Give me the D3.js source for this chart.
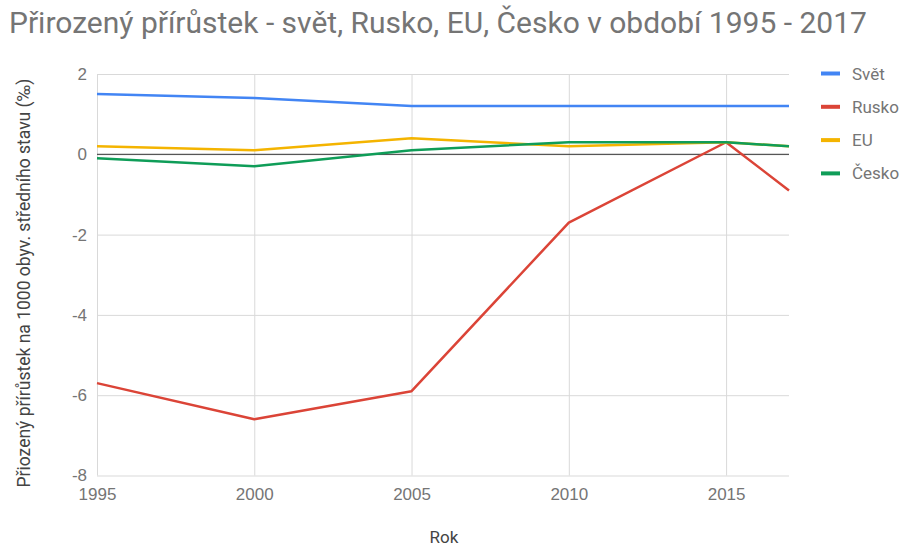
<!DOCTYPE html>
<html>
<head>
<meta charset="utf-8">
<script src="https://cdnjs.cloudflare.com/ajax/libs/d3/7.8.5/d3.min.js"></script>
<style>
  body { margin: 0; background: #fff; }
  svg { font-family: Roboto, "Noto Sans", sans-serif; display: block; }
</style>
</head>
<body>
<svg id="chart"></svg>
<script>
var years = [1995, 2000, 2005, 2010, 2015, 2017]
var svet = [1.5, 1.4, 1.2, 1.2, 1.2, 1.2]
var rusko = [-5.7, -6.6, -5.9, -1.7, 0.3, -0.9]
var eu = [0.2, 0.1, 0.4, 0.2, 0.3, 0.2]
var cesko = [-0.1, -0.3, 0.1, 0.3, 0.3, 0.2]
var seriesNames = ["Svět", "Rusko", "EU", "Česko"]
var seriesColors = ["#4285F4", "#DB4437", "#F4B400", "#0F9D58"]
var xTicks = [1995, 2000, 2005, 2010, 2015]
var yTicks = [2, 0, -2, -4, -6, -8]

var dimensions = {
    width: 903,
    height: 546,
    margin: { top: 74, bottom: 70.5, right: 114, left: 97 }
}

var svg = d3.select("#chart")
    .attr("width", dimensions.width)
    .attr("height", dimensions.height)

var xScale = d3.scaleLinear()
    .domain([1995, 2017])
    .range([dimensions.margin.left, dimensions.width - dimensions.margin.right])

var yScale = d3.scaleLinear()
    .domain([-8, 2])
    .range([dimensions.height - dimensions.margin.bottom, dimensions.margin.top])

// gridlines via axes
var xAxisgen = d3.axisBottom(xScale).tickValues(xTicks).tickFormat(d => String(d))
    .tickSize(-(yScale(-8) - yScale(2))).tickPadding(12)
var yAxisgen = d3.axisLeft(yScale).tickValues(yTicks).tickFormat(d => String(d))
    .tickSize(-(xScale(2017) - xScale(1995))).tickPadding(10)

var xAxis = svg.append("g")
    .attr("transform", `translate(0,${yScale(-8)})`)
    .call(xAxisgen)
xAxis.select(".domain").remove()

var yAxis = svg.append("g")
    .attr("transform", `translate(${xScale(1995)},0)`)
    .call(yAxisgen)
yAxis.select(".domain").remove()

svg.selectAll(".tick line").attr("stroke", "#d9d9d9").attr("stroke-width", 1)
svg.selectAll(".tick text").attr("fill", "#757575").style("font-size", "17px")

svg.append("line")
    .attr("x1", xScale(1995)).attr("x2", xScale(2017))
    .attr("y1", yScale(0)).attr("y2", yScale(0))
    .attr("stroke", "#333").attr("stroke-width", 1)

var data = [svet, rusko, eu, cesko]
var line = d3.line()
    .x((d, i) => xScale(years[i]))
    .y(d => yScale(d))

svg.append("g")
    .selectAll("path")
    .data([1, 2, 0, 3])
    .enter()
    .append("path")
    .attr("d", k => line(data[k]))
    .attr("fill", "none")
    .attr("stroke", k => seriesColors[k])
    .attr("stroke-width", 2.5)
    .attr("stroke-linejoin", "round")

// legend
var legend = svg.append("g")
    .selectAll("g")
    .data(seriesNames)
    .enter()
    .append("g")
    .attr("transform", (d, i) => `translate(821,${73.5 + i * 33.3})`)

legend.append("rect")
    .attr("x", 0).attr("y", -2).attr("width", 19).attr("height", 4)
    .attr("fill", (d, i) => seriesColors[i])
legend.append("text")
    .attr("x", 31).attr("y", 6)
    .attr("fill", "#757575")
    .style("font-size", "17px")
    .text(d => d)

svg.append("text")
    .attr("x", 9).attr("y", 33)
    .attr("fill", "#757575")
    .style("font-size", "30px")
    .text("Přirozený přírůstek - svět, Rusko, EU, Česko v období 1995 - 2017")

svg.append("text")
    .attr("x", 444).attr("y", 543)
    .attr("text-anchor", "middle")
    .attr("fill", "#444")
    .style("font-size", "17px")
    .text("Rok")

svg.append("text")
    .attr("transform", "translate(30,283) rotate(-90)")
    .attr("text-anchor", "middle")
    .attr("fill", "#444")
    .style("font-size", "17.5px")
    .text("Přiozený přírůstek na 1000 obyv. středního stavu (‰)")
</script>
</body>
</html>
